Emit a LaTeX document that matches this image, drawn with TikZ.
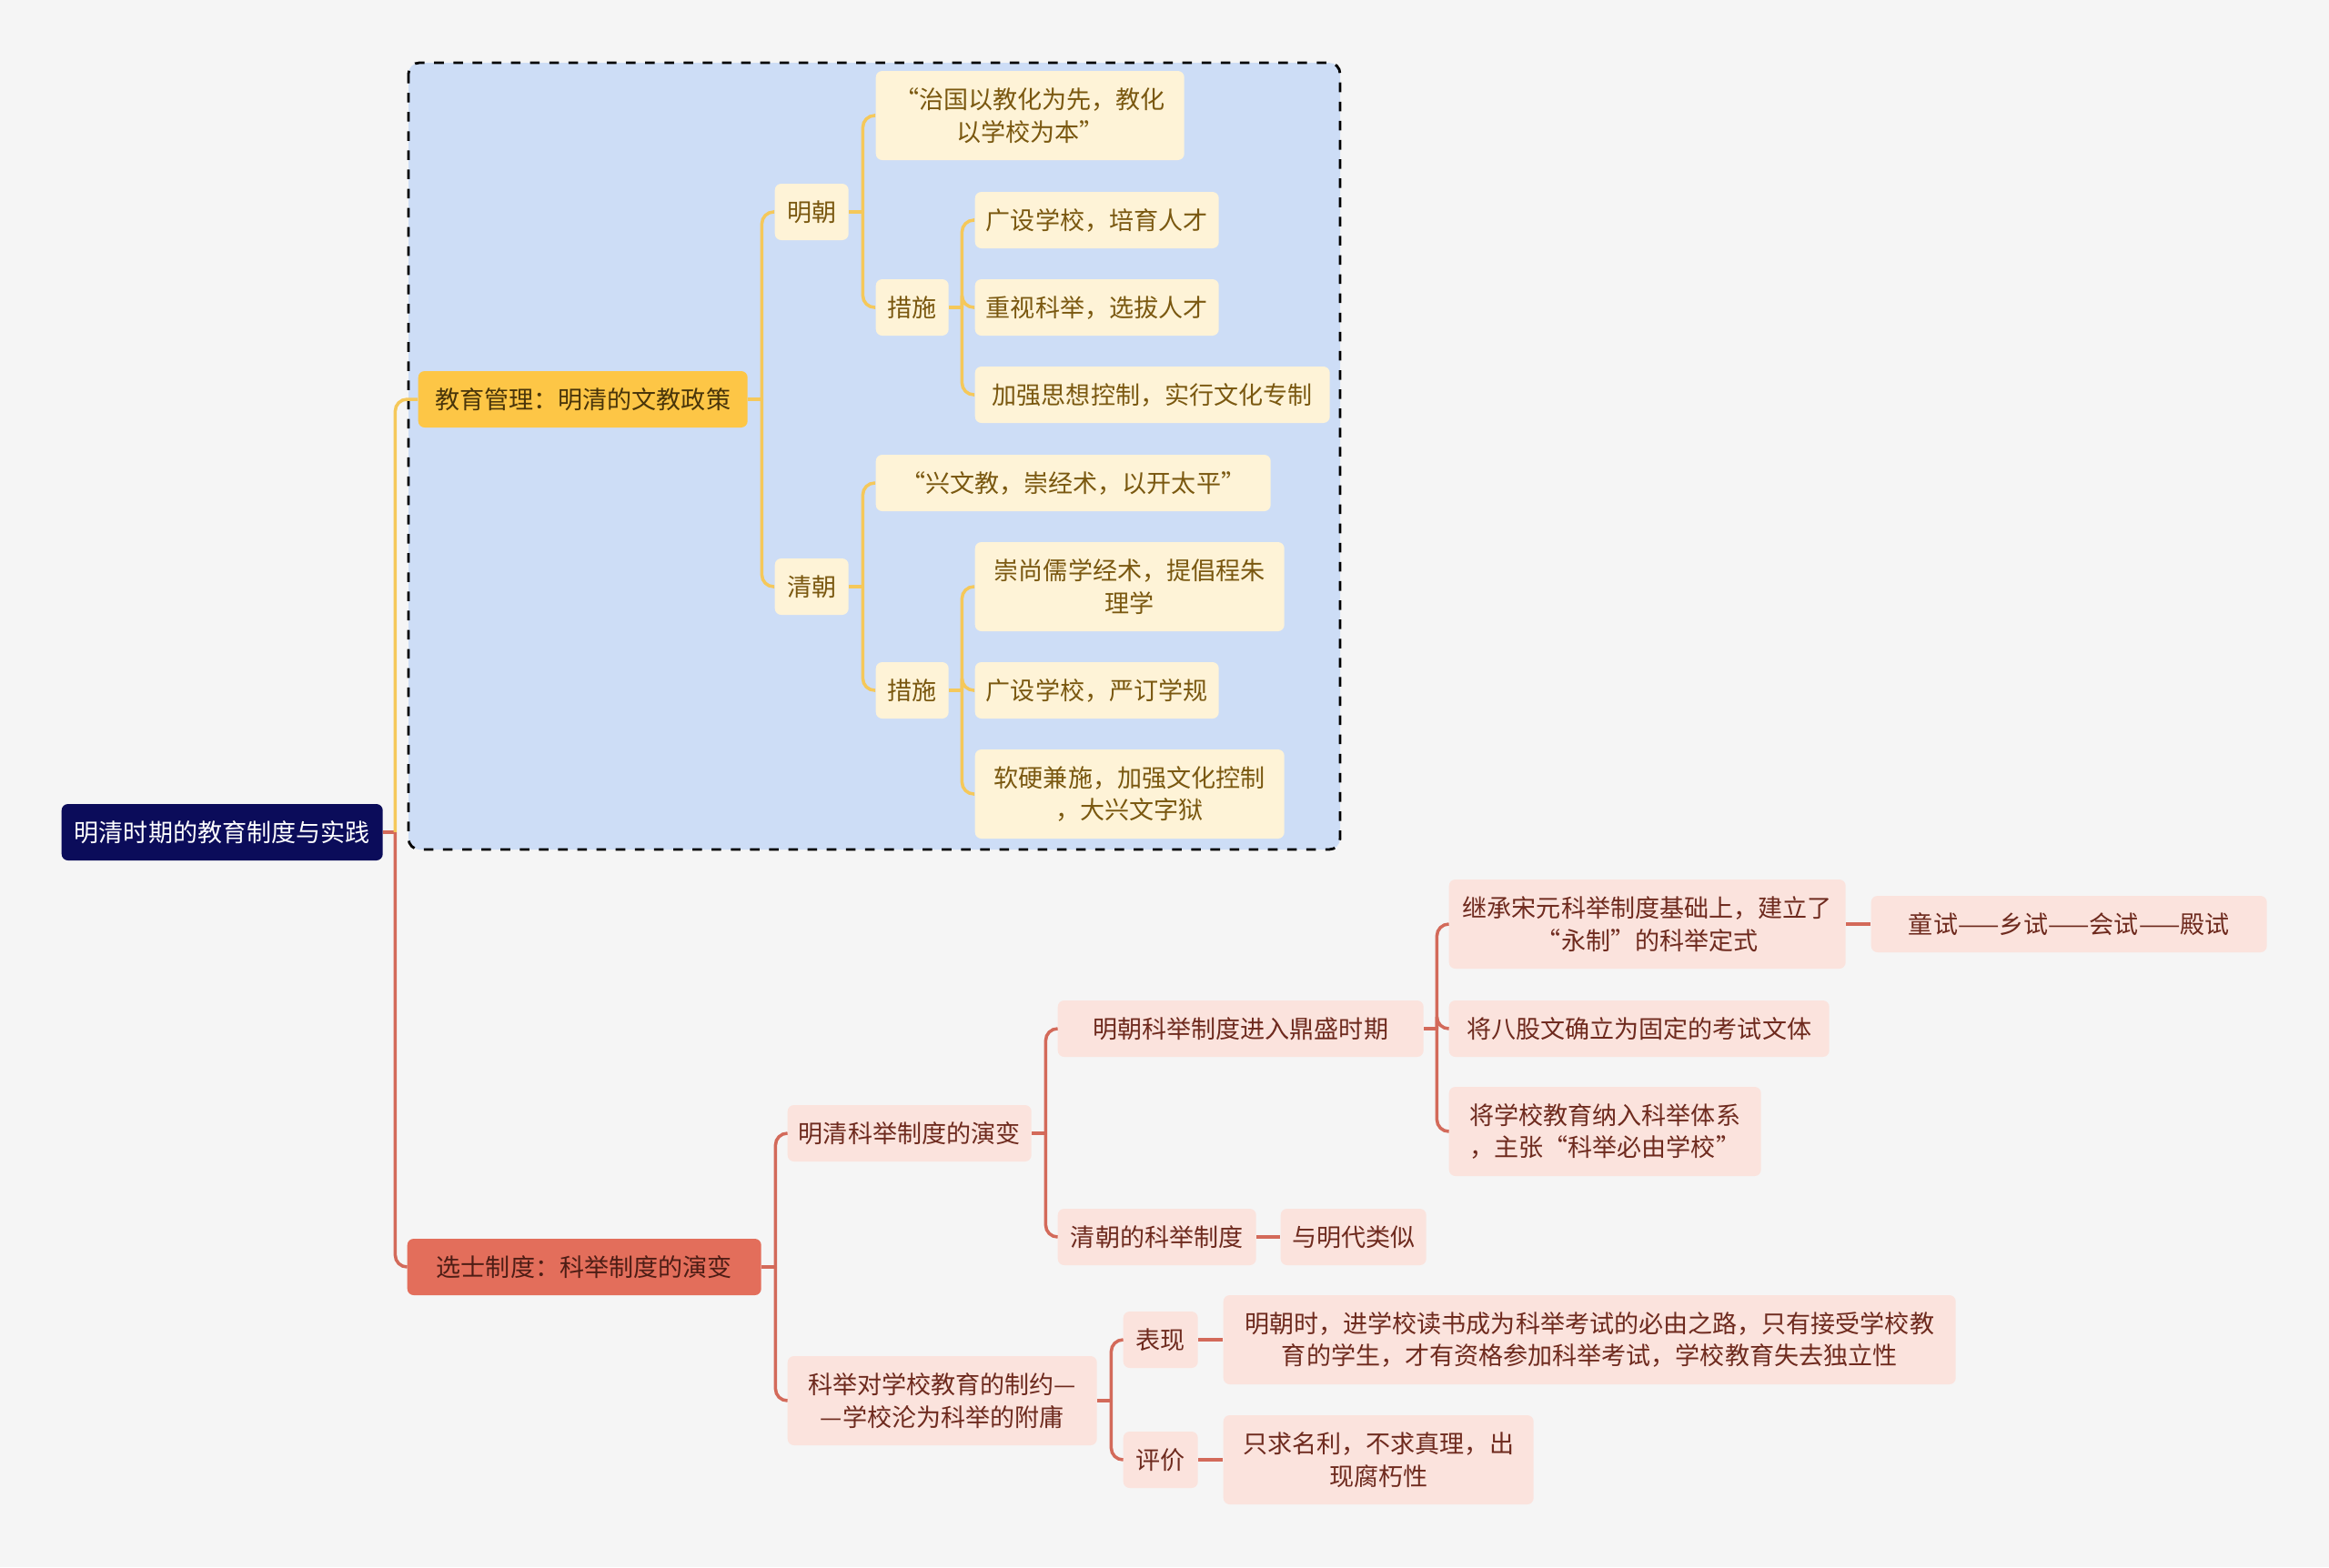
\documentclass[tikz,border=0pt]{standalone}
\usepackage{fontspec}
\setmainfont{Noto Sans CJK SC}
\usetikzlibrary{positioning}
\definecolor{pagebg}{HTML}{F5F5F5}
\definecolor{navy}{HTML}{0B0C5A}
\definecolor{areablue}{HTML}{CDDDF6}
\definecolor{ygold}{HTML}{FDC646}
\definecolor{ycream}{HTML}{FEF3D7}
\definecolor{ytext}{HTML}{7A5810}
\definecolor{yline}{HTML}{F5C85A}
\definecolor{rcoral}{HTML}{E36E5B}
\definecolor{rpink}{HTML}{FBE3DD}
\definecolor{rtext}{HTML}{6E2A1E}
\definecolor{rline}{HTML}{D36A5A}

\begin{document}
\begin{tikzpicture}[
  box/.style={rounded corners=0.07cm, anchor=west, align=center,
    minimum height=0.62cm, inner xsep=0.12cm, inner ysep=0pt,
    font=\fontsize{7.7pt}{10.2pt}\selectfont},
  twoline/.style={minimum height=0.98cm},
  rootbox/.style={box, fill=navy, text=white},
  ybranch/.style={box, fill=ygold, text=ytext!60!black},
  yleaf/.style={box, fill=ycream, text=ytext},
  rbranch/.style={box, fill=rcoral, text=rtext!70!black},
  rleaf/.style={box, fill=rpink, text=rtext},
  ylink/.style={draw=yline, line width=1pt},
  rlink/.style={draw=rline, line width=1pt},
  elbow/.style={rounded corners=0.13cm},
]

% Background
\fill[pagebg] (0,0) rectangle (25.6,-17.23);
\useasboundingbox (0,0) rectangle (25.6,-17.23);

% Summary area behind the first branch
\draw[dashed, line width=0.8pt, fill=areablue, rounded corners=0.12cm]
  (4.49,-0.69) rectangle (14.73,-9.34);

% =============================================
% Root
% =============================================
\node[rootbox, minimum width=3.53cm] (root) at (0.67,-9.15)
  {明清时期的教育制度与实践};

% =============================================
% Branch 1: education policy (yellow)
% =============================================
\node[ybranch, minimum width=3.62cm] (ybr) at (4.59,-4.39)
  {教育管理：明清的文教政策};

\node[yleaf, minimum width=0.81cm] (ming) at (8.51,-2.33) {明朝};
\node[yleaf, minimum width=0.81cm] (qing) at (8.51,-6.45) {清朝};

% Ming dynasty
\node[yleaf, twoline, minimum width=3.39cm] (mquote) at (9.62,-1.27)
  {“治国以教化为先，教化\\以学校为本”};
\node[yleaf, minimum width=0.80cm] (mcs) at (9.62,-3.38) {措施};
\node[yleaf, minimum width=2.68cm] (mone) at (10.71,-2.42) {广设学校，培育人才};
\node[yleaf, minimum width=2.68cm] (mtwo) at (10.71,-3.38) {重视科举，选拔人才};
\node[yleaf, minimum width=3.90cm] (mthree) at (10.71,-4.34) {加强思想控制，实行文化专制};

% Qing dynasty
\node[yleaf, minimum width=4.34cm] (qquote) at (9.62,-5.31)
  {“兴文教，崇经术，以开太平”};
\node[yleaf, minimum width=0.80cm] (qcs) at (9.62,-7.59) {措施};
\node[yleaf, twoline, minimum width=3.40cm] (qone) at (10.71,-6.45)
  {崇尚儒学经术，提倡程朱\\理学};
\node[yleaf, minimum width=2.68cm] (qtwo) at (10.71,-7.59) {广设学校，严订学规};
\node[yleaf, twoline, minimum width=3.40cm] (qthree) at (10.71,-8.73)
  {软硬兼施，加强文化控制\\，大兴文字狱};

% =============================================
% Branch 2: examination system (red)
% =============================================
\node[rbranch, minimum width=3.89cm] (rbr) at (4.47,-13.93)
  {选士制度：科举制度的演变};

\node[rleaf, minimum width=2.68cm] (kj) at (8.65,-12.46) {明清科举制度的演变};
\node[rleaf, twoline, minimum width=3.40cm] (kjxz) at (8.65,-15.40)
  {科举对学校教育的制约—\\—学校沦为科举的附庸};

\node[rleaf, minimum width=4.02cm] (mkj) at (11.62,-11.31) {明朝科举制度进入鼎盛时期};
\node[rleaf, minimum width=2.18cm] (qkj) at (11.62,-13.60) {清朝的科举制度};
\node[rleaf, minimum width=1.60cm] (qkjsim) at (14.07,-13.60) {与明代类似};

\node[rleaf, twoline, minimum width=4.36cm] (jc) at (15.92,-10.16)
  {继承宋元科举制度基础上，建立了\\“永制”的科举定式};
\node[rleaf, minimum width=4.35cm] (tongshi) at (20.56,-10.16)
  {童试——乡试——会试——殿试};
\node[rleaf, minimum width=4.18cm] (bagu) at (15.92,-11.31) {将八股文确立为固定的考试文体};
\node[rleaf, twoline, minimum width=3.43cm] (xuexiao) at (15.92,-12.44)
  {将学校教育纳入科举体系\\，主张“科举必由学校”};

\node[rleaf, minimum width=0.82cm] (bx) at (12.34,-14.73) {表现};
\node[rleaf, minimum width=0.82cm] (pj) at (12.34,-16.05) {评价};
\node[rleaf, twoline, minimum width=8.05cm] (bxt) at (13.44,-14.73)
  {明朝时，进学校读书成为科举考试的必由之路，只有接受学校教\\育的学生，才有资格参加科举考试，学校教育失去独立性};
\node[rleaf, twoline, minimum width=3.41cm] (pjt) at (13.44,-16.05)
  {只求名利，不求真理，出\\现腐朽性};

% =============================================
% Connectors
% =============================================
% root
\draw[rlink] (root.east) -- ++(0.13,0) coordinate (rootJ);
\draw[ylink, elbow] (rootJ) |- (ybr.west);
\draw[rlink, elbow] (rootJ) |- (rbr.west);

% yellow side
\draw[ylink] (ybr.east) -- ++(0.15,0) coordinate (ybrJ);
\foreach \c in {ming,qing} \draw[ylink, elbow] (ybrJ) |- (\c.west);
\draw[ylink] (ming.east) -- ++(0.15,0) coordinate (mingJ);
\foreach \c in {mquote,mcs} \draw[ylink, elbow] (mingJ) |- (\c.west);
\draw[ylink] (mcs.east) -- ++(0.14,0) coordinate (mcsJ);
\foreach \c in {mone,mtwo,mthree} \draw[ylink, elbow] (mcsJ) |- (\c.west);
\draw[ylink] (qing.east) -- ++(0.15,0) coordinate (qingJ);
\foreach \c in {qquote,qcs} \draw[ylink, elbow] (qingJ) |- (\c.west);
\draw[ylink] (qcs.east) -- ++(0.14,0) coordinate (qcsJ);
\foreach \c in {qone,qtwo,qthree} \draw[ylink, elbow] (qcsJ) |- (\c.west);

% red side
\draw[rlink] (rbr.east) -- ++(0.15,0) coordinate (rbrJ);
\foreach \c in {kj,kjxz} \draw[rlink, elbow] (rbrJ) |- (\c.west);
\draw[rlink] (kj.east) -- ++(0.15,0) coordinate (kjJ);
\foreach \c in {mkj,qkj} \draw[rlink, elbow] (kjJ) |- (\c.west);
\draw[rlink] (mkj.east) -- ++(0.14,0) coordinate (mkjJ);
\foreach \c in {jc,bagu,xuexiao} \draw[rlink, elbow] (mkjJ) |- (\c.west);
\draw[rlink] (kjxz.east) -- ++(0.15,0) coordinate (kjxzJ);
\foreach \c in {bx,pj} \draw[rlink, elbow] (kjxzJ) |- (\c.west);
\draw[rlink] (jc.east) -- (tongshi.west);
\draw[rlink] (qkj.east) -- (qkjsim.west);
\draw[rlink] (bx.east) -- (bxt.west);
\draw[rlink] (pj.east) -- (pjt.west);

\end{tikzpicture}
\end{document}
